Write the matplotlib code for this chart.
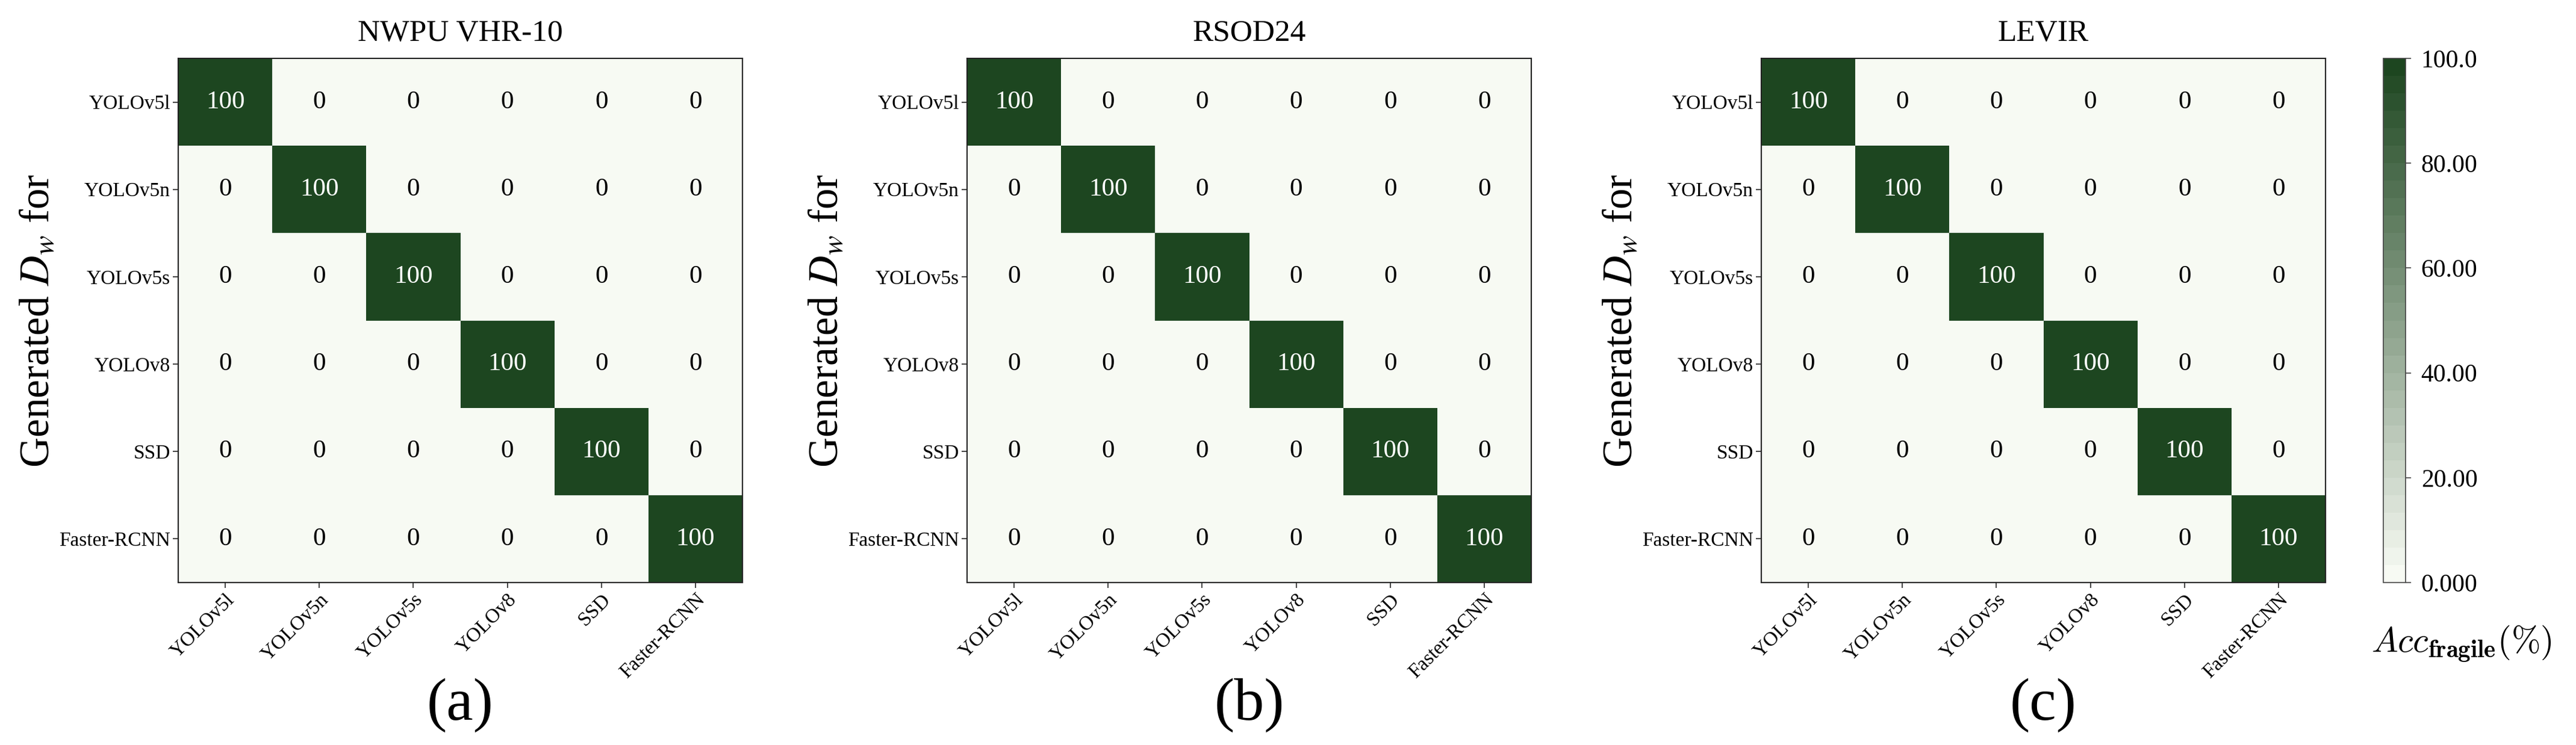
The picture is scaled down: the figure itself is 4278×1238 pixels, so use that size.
import numpy as np
import matplotlib
matplotlib.use("Agg")
import matplotlib.pyplot as plt
from matplotlib.colors import LinearSegmentedColormap

# ---------------- data ----------------
models = ["YOLOv5l", "YOLOv5n", "YOLOv5s", "YOLOv8", "SSD", "Faster-RCNN"]
datasets = ["NWPU VHR-10", "RSOD24", "LEVIR"]
panel_labels = ["(a)", "(b)", "(c)"]

acc_nwpu = [
    [100, 0, 0, 0, 0, 0],
    [0, 100, 0, 0, 0, 0],
    [0, 0, 100, 0, 0, 0],
    [0, 0, 0, 100, 0, 0],
    [0, 0, 0, 0, 100, 0],
    [0, 0, 0, 0, 0, 100],
]
acc_rsod = [
    [100, 0, 0, 0, 0, 0],
    [0, 100, 0, 0, 0, 0],
    [0, 0, 100, 0, 0, 0],
    [0, 0, 0, 100, 0, 0],
    [0, 0, 0, 0, 100, 0],
    [0, 0, 0, 0, 0, 100],
]
acc_levir = [
    [100, 0, 0, 0, 0, 0],
    [0, 100, 0, 0, 0, 0],
    [0, 0, 100, 0, 0, 0],
    [0, 0, 0, 100, 0, 0],
    [0, 0, 0, 0, 100, 0],
    [0, 0, 0, 0, 0, 100],
]
cbar_ticks = [0, 20, 40, 60, 80, 100]
cbar_ticklabels = ["0.000", "20.00", "40.00", "60.00", "80.00", "100.0"]

# ---------------- style ----------------
plt.rcParams["font.family"] = ["Liberation Serif", "DejaVu Serif"]
plt.rcParams["mathtext.fontset"] = "stix"

W, H = 4278, 1238
fig = plt.figure(figsize=(W / 100, H / 100), dpi=100)

cmap = LinearSegmentedColormap.from_list("fragile", ["#f7faf3", "#1d4620"], N=30)
vmin, vmax = 0, 100

ax_lefts = [296, 1606, 2925]
ax_w = 937
ax_top, ax_bot = 97, 968
bottom = (H - ax_bot) / H
height = (ax_bot - ax_top) / H

mats = [acc_nwpu, acc_rsod, acc_levir]
mesh = None
for i, (mat, name, plab) in enumerate(zip(mats, datasets, panel_labels)):
    ax = fig.add_axes([ax_lefts[i] / W, bottom, ax_w / W, height])
    data = np.array(mat, dtype=float)
    n = data.shape[0]
    mesh = ax.pcolormesh(np.arange(n + 1), np.arange(n + 1), data,
                         cmap=cmap, vmin=vmin, vmax=vmax, shading="flat")
    ax.set_xlim(0, n)
    ax.set_ylim(n, 0)
    ax.set_xticks(np.arange(n) + 0.5)
    ax.set_yticks(np.arange(n) + 0.5)
    ax.set_xticklabels(models, rotation=45, ha="right",
                       rotation_mode="anchor", fontsize=24)
    ax.set_yticklabels(models, fontsize=24)
    ax.tick_params(axis="both", length=6.5, width=1.2, pad=3, color="#222222")
    for sp in ax.spines.values():
        sp.set_linewidth(1.5)
        sp.set_color("#222222")
    for r in range(n):
        for c in range(n):
            v = data[r, c]
            ax.text(c + 0.5, r + 0.5, f"{v:g}", ha="center", va="center",
                    fontsize=31, color="white" if v > 50 else "black")
    ax.set_title(name, fontsize=37, pad=21)
    ax.set_ylabel(r"Generated $D_w$ for", fontsize=50, labelpad=2)
    cx = (ax_lefts[i] + ax_w / 2) / W
    fig.text(cx, 1 - 1172 / H, plab, ha="center", va="center", fontsize=72)

# colorbar
cax = fig.add_axes([3958 / W, bottom, 37 / W, height])
cb = fig.colorbar(mesh, cax=cax)
cb.set_ticks(cbar_ticks)
cb.set_ticklabels(cbar_ticklabels)
cb.ax.tick_params(labelsize=30, length=6.5, width=1.2, pad=12, color="#444444")
cb.outline.set_linewidth(1.2)
cb.outline.set_edgecolor("#444444")

fig.text(4088 / W, 1 - 1070 / H, r"$Acc_{\mathbf{fragile}}(\%)$",
         ha="center", va="center", fontsize=42, math_fontfamily="cm")

fig.savefig("out.png", dpi=100, facecolor="white")
